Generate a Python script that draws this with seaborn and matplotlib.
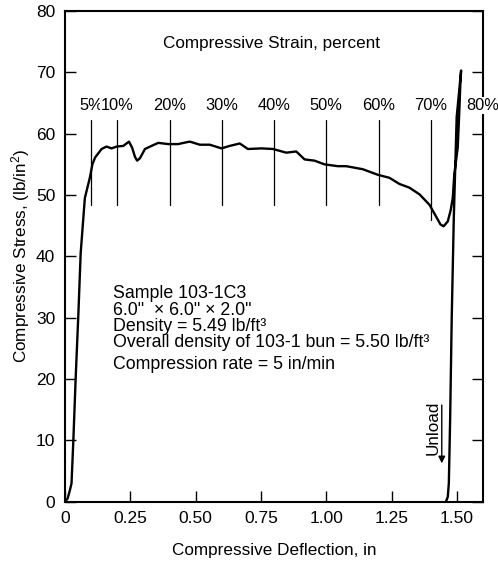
import matplotlib
matplotlib.use("Agg")
import matplotlib.pyplot as plt
import seaborn as sns
import pandas as pd

# loading curve then unloading
deflection = [0.0, 0.010, 0.019, 0.025, 0.032, 0.041, 0.051, 0.060, 0.076, 0.095,
              0.105, 0.115, 0.140, 0.159, 0.178, 0.198, 0.223, 0.245, 0.257, 0.268,
              0.276, 0.287, 0.306, 0.331, 0.357, 0.395, 0.433, 0.465, 0.478, 0.516,
              0.554, 0.599, 0.630, 0.669, 0.700, 0.752, 0.796, 0.847, 0.885, 0.917,
              0.955, 0.993, 1.044, 1.076, 1.102, 1.140, 1.197, 1.242, 1.280, 1.318,
              1.357, 1.395, 1.420, 1.437, 1.449, 1.465, 1.476, 1.484, 1.490, 1.503,
              1.509, 1.513, 1.516,
              1.499, 1.488, 1.480, 1.474, 1.469, 1.465, 1.458]
stress = [0.0, 0.5, 1.9, 3.0, 10.0, 20.3, 30.4, 40.5, 49.5, 52.8,
          55.0, 56.1, 57.5, 57.9, 57.6, 57.9, 58.0, 58.7, 57.7, 56.2,
          55.6, 56.0, 57.5, 58.0, 58.5, 58.3, 58.3, 58.6, 58.7, 58.2,
          58.2, 57.6, 58.0, 58.4, 57.5, 57.6, 57.5, 56.9, 57.1, 55.8,
          55.6, 55.0, 54.7, 54.7, 54.5, 54.2, 53.3, 52.8, 51.8, 51.2,
          50.1, 48.4, 46.5, 45.2, 44.9, 45.7, 47.5, 49.5, 53.4, 57.7,
          63.5, 68.0, 70.3,
          62.7, 46.3, 29.8, 13.4, 3.0, 0.8, 0.0]

strain_pct = [5, 10, 20, 30, 40, 50, 60, 70, 80]
strain_defl = [0.1, 0.2, 0.4, 0.6, 0.8, 1.0, 1.2, 1.4, 1.6]
strain_bottom = [48.3, 48.3, 48.3, 48.3, 48.3, 48.3, 48.3, 46.0, 48.3]

x_ticks = [0, 0.25, 0.5, 0.75, 1.0, 1.25, 1.5]
x_ticklabels = ["0", "0.25", "0.50", "0.75", "1.00", "1.25", "1.50"]
y_ticks = [0, 10, 20, 30, 40, 50, 60, 70, 80]

sample_notes = ["Sample 103-1C3",
                "6.0\"  × 6.0\" × 2.0\"",
                "Density = 5.49 lb/ft³",
                "Overall density of 103-1 bun = 5.50 lb/ft³"]
rate_note = "Compression rate = 5 in/min"

sns.set_style("ticks")
plt.rcParams['font.family'] = ['Liberation Sans', 'DejaVu Sans']
plt.rcParams['mathtext.default'] = 'regular'
plt.rcParams['font.size'] = 12
for key in ['text.color', 'axes.labelcolor', 'xtick.color', 'ytick.color', 'axes.edgecolor']:
    plt.rcParams[key] = 'black'

df = pd.DataFrame({"deflection": deflection, "stress": stress})

fig, ax = plt.subplots(figsize=(4.98, 5.64), dpi=100)
fig.subplots_adjust(left=0.1305, right=0.97, bottom=0.1105, top=0.9805)

sns.lineplot(data=df, x="deflection", y="stress", sort=False, estimator=None,
             color="black", linewidth=1.7, ax=ax)

# strain reference lines
for pct, d, yb in zip(strain_pct, strain_defl, strain_bottom):
    ax.plot([d, d], [yb, 62.2], color="black", linewidth=0.9)
    ax.text(d, 64.6, f"{pct}%", ha="center", va="center", fontsize=11.8,
            clip_on=False, bbox=dict(facecolor="white", edgecolor="none", pad=0.5))
ax.text(0.789, 74.7, "Compressive Strain, percent", ha="center", va="center", fontsize=12.3)

ax.text(0.183, 35.3, "\n".join(sample_notes), ha="left", va="top",
        fontsize=12.8, linespacing=0.95)
ax.text(0.183, 22.3, rate_note, ha="left", va="center", fontsize=12.8)

ax.annotate("", xy=(1.442, 5.8), xytext=(1.442, 16.2),
            arrowprops=dict(arrowstyle="-|>", color="black", lw=1.0, mutation_scale=10))
ax.text(1.408, 12.1, "Unload", rotation=90, ha="center", va="center", fontsize=12.3)

ax.set_xlim(0, 1.6)
ax.set_ylim(0, 80)
ax.set_xticks(x_ticks)
ax.set_xticklabels(x_ticklabels)
ax.set_yticks(y_ticks)
ax.tick_params(direction="in", length=8, width=1.0, pad=7, labelsize=12.5,
               right=True, top=False)
for sp in ax.spines.values():
    sp.set_linewidth(1.5)
ax.set_xlabel("Compressive Deflection, in", fontsize=12.3, labelpad=12)
ax.set_ylabel("Compressive Stress, (lb/in$^{2}$)", fontsize=12.3, labelpad=3)

fig.savefig("out.png", dpi=100)
